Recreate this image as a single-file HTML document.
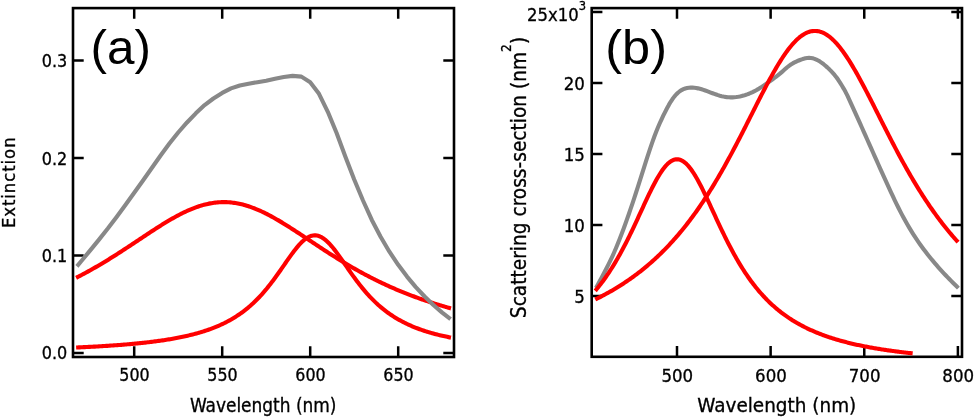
<!DOCTYPE html>
<html><head><meta charset="utf-8"><title>Figure</title>
<style>html,body{margin:0;padding:0;background:#fff}svg{display:block}text{fill:#000}</style>
</head><body>
<svg width="974" height="417" viewBox="0 0 974 417">
<rect width="974" height="417" fill="#fff"/>
<rect x="73.0" y="8.1" width="381.0" height="348.9" fill="none" stroke="#000" stroke-width="2.6"/>
<path d="M134.20,357.0 v-10.7 M134.20,8.1 v10.7 M222.20,357.0 v-10.7 M222.20,8.1 v10.7 M310.20,357.0 v-10.7 M310.20,8.1 v10.7 M398.20,357.0 v-10.7 M398.20,8.1 v10.7 M73.0,353.00 h10.7 M454.0,353.00 h-10.7 M73.0,255.53 h10.7 M454.0,255.53 h-10.7 M73.0,158.06 h10.7 M454.0,158.06 h-10.7 M73.0,60.59 h10.7 M454.0,60.59 h-10.7 " fill="none" stroke="#000" stroke-width="2.5"/>
<path d="M76.12,277.83 L77.37,277.19 L78.63,276.54 L79.88,275.88 L81.14,275.22 L82.39,274.56 L83.64,273.89 L84.90,273.21 L86.15,272.53 L87.40,271.84 L88.66,271.15 L89.91,270.45 L91.17,269.75 L92.42,269.04 L93.67,268.33 L94.93,267.61 L96.18,266.89 L97.43,266.16 L98.69,265.42 L99.94,264.68 L101.20,263.94 L102.45,263.19 L103.70,262.44 L104.96,261.68 L106.21,260.92 L107.46,260.15 L108.72,259.38 L109.97,258.60 L111.23,257.82 L112.48,257.03 L113.73,256.24 L114.99,255.45 L116.24,254.66 L117.49,253.85 L118.75,253.05 L120.00,252.24 L121.26,251.43 L122.51,250.62 L123.76,249.80 L125.02,248.98 L126.27,248.16 L127.52,247.34 L128.78,246.51 L130.03,245.69 L131.29,244.86 L132.54,244.02 L133.79,243.19 L135.05,242.36 L136.30,241.52 L137.56,240.69 L138.81,239.85 L140.06,239.02 L141.32,238.18 L142.57,237.35 L143.82,236.52 L145.08,235.69 L146.33,234.85 L147.59,234.03 L148.84,233.20 L150.09,232.37 L151.35,231.55 L152.60,230.73 L153.85,229.92 L155.11,229.11 L156.36,228.30 L157.62,227.50 L158.87,226.70 L160.12,225.91 L161.38,225.12 L162.63,224.34 L163.88,223.57 L165.14,222.80 L166.39,222.04 L167.65,221.29 L168.90,220.55 L170.15,219.81 L171.41,219.09 L172.66,218.37 L173.91,217.66 L175.17,216.97 L176.42,216.28 L177.68,215.61 L178.93,214.95 L180.18,214.30 L181.44,213.66 L182.69,213.03 L183.95,212.42 L185.20,211.83 L186.45,211.24 L187.71,210.67 L188.96,210.12 L190.21,209.58 L191.47,209.06 L192.72,208.55 L193.98,208.07 L195.23,207.59 L196.48,207.14 L197.74,206.70 L198.99,206.28 L200.24,205.88 L201.50,205.50 L202.75,205.14 L204.01,204.79 L205.26,204.47 L206.51,204.17 L207.77,203.88 L209.02,203.62 L210.27,203.38 L211.53,203.16 L212.78,202.96 L214.04,202.78 L215.29,202.62 L216.54,202.48 L217.80,202.37 L219.05,202.27 L220.30,202.20 L221.56,202.15 L222.81,202.12 L224.07,202.12 L225.32,202.13 L226.57,202.17 L227.83,202.23 L229.08,202.31 L230.33,202.41 L231.59,202.54 L232.84,202.69 L234.10,202.85 L235.35,203.04 L236.60,203.25 L237.86,203.48 L239.11,203.74 L240.37,204.01 L241.62,204.30 L242.87,204.61 L244.13,204.95 L245.38,205.30 L246.63,205.67 L247.89,206.06 L249.14,206.47 L250.40,206.90 L251.65,207.34 L252.90,207.80 L254.16,208.28 L255.41,208.78 L256.66,209.29 L257.92,209.82 L259.17,210.37 L260.43,210.93 L261.68,211.50 L262.93,212.09 L264.19,212.70 L265.44,213.31 L266.69,213.94 L267.95,214.59 L269.20,215.24 L270.46,215.91 L271.71,216.59 L272.96,217.28 L274.22,217.98 L275.47,218.69 L276.72,219.41 L277.98,220.14 L279.23,220.88 L280.49,221.63 L281.74,222.38 L282.99,223.14 L284.25,223.91 L285.50,224.69 L286.75,225.47 L288.01,226.26 L289.26,227.06 L290.52,227.86 L291.77,228.66 L293.02,229.47 L294.28,230.28 L295.53,231.10 L296.79,231.92 L298.04,232.74 L299.29,233.57 L300.55,234.40 L301.80,235.23 L303.05,236.06 L304.31,236.89 L305.56,237.73 L306.82,238.56 L308.07,239.40 L309.32,240.23 L310.58,241.07 L311.83,241.90 L313.08,242.73 L314.34,243.57 L315.59,244.40 L316.85,245.23 L318.10,246.06 L319.35,246.89 L320.61,247.71 L321.86,248.53 L323.11,249.35 L324.37,250.17 L325.62,250.99 L326.88,251.80 L328.13,252.61 L329.38,253.41 L330.64,254.22 L331.89,255.01 L333.14,255.81 L334.40,256.60 L335.65,257.39 L336.91,258.17 L338.16,258.95 L339.41,259.72 L340.67,260.49 L341.92,261.26 L343.17,262.02 L344.43,262.78 L345.68,263.53 L346.94,264.27 L348.19,265.02 L349.44,265.75 L350.70,266.48 L351.95,267.21 L353.21,267.93 L354.46,268.65 L355.71,269.36 L356.97,270.07 L358.22,270.77 L359.47,271.46 L360.73,272.15 L361.98,272.84 L363.24,273.52 L364.49,274.19 L365.74,274.86 L367.00,275.52 L368.25,276.18 L369.50,276.83 L370.76,277.48 L372.01,278.12 L373.27,278.75 L374.52,279.38 L375.77,280.01 L377.03,280.62 L378.28,281.24 L379.53,281.85 L380.79,282.45 L382.04,283.05 L383.30,283.64 L384.55,284.22 L385.80,284.81 L387.06,285.38 L388.31,285.95 L389.56,286.52 L390.82,287.08 L392.07,287.63 L393.33,288.18 L394.58,288.72 L395.83,289.26 L397.09,289.80 L398.34,290.33 L399.60,290.85 L400.85,291.37 L402.10,291.88 L403.36,292.39 L404.61,292.90 L405.86,293.40 L407.12,293.89 L408.37,294.38 L409.63,294.86 L410.88,295.34 L412.13,295.82 L413.39,296.29 L414.64,296.75 L415.89,297.22 L417.15,297.67 L418.40,298.12 L419.66,298.57 L420.91,299.02 L422.16,299.45 L423.42,299.89 L424.67,300.32 L425.92,300.74 L427.18,301.17 L428.43,301.58 L429.69,302.00 L430.94,302.41 L432.19,302.81 L433.45,303.21 L434.70,303.61 L435.95,304.00 L437.21,304.39 L438.46,304.78 L439.72,305.16 L440.97,305.53 L442.22,305.91 L443.48,306.28 L444.73,306.65 L445.98,307.01 L447.24,307.37 L448.49,307.72 L449.75,308.07 L451.00,308.42" fill="none" stroke="#ff0000" stroke-width="4.1" stroke-linejoin="round"/>
<path d="M76.12,347.51 L77.37,347.45 L78.63,347.40 L79.88,347.34 L81.14,347.28 L82.39,347.22 L83.64,347.17 L84.90,347.10 L86.15,347.04 L87.40,346.98 L88.66,346.92 L89.91,346.85 L91.17,346.79 L92.42,346.72 L93.67,346.65 L94.93,346.58 L96.18,346.51 L97.43,346.44 L98.69,346.37 L99.94,346.30 L101.20,346.22 L102.45,346.15 L103.70,346.07 L104.96,345.99 L106.21,345.91 L107.46,345.83 L108.72,345.75 L109.97,345.67 L111.23,345.58 L112.48,345.50 L113.73,345.41 L114.99,345.32 L116.24,345.23 L117.49,345.14 L118.75,345.04 L120.00,344.95 L121.26,344.85 L122.51,344.75 L123.76,344.65 L125.02,344.55 L126.27,344.44 L127.52,344.33 L128.78,344.23 L130.03,344.12 L131.29,344.00 L132.54,343.89 L133.79,343.77 L135.05,343.65 L136.30,343.53 L137.56,343.41 L138.81,343.28 L140.06,343.15 L141.32,343.02 L142.57,342.89 L143.82,342.75 L145.08,342.62 L146.33,342.47 L147.59,342.33 L148.84,342.18 L150.09,342.03 L151.35,341.88 L152.60,341.72 L153.85,341.57 L155.11,341.40 L156.36,341.24 L157.62,341.07 L158.87,340.90 L160.12,340.72 L161.38,340.54 L162.63,340.35 L163.88,340.17 L165.14,339.97 L166.39,339.78 L167.65,339.58 L168.90,339.37 L170.15,339.16 L171.41,338.95 L172.66,338.73 L173.91,338.51 L175.17,338.28 L176.42,338.04 L177.68,337.80 L178.93,337.56 L180.18,337.31 L181.44,337.05 L182.69,336.79 L183.95,336.52 L185.20,336.25 L186.45,335.97 L187.71,335.68 L188.96,335.38 L190.21,335.08 L191.47,334.77 L192.72,334.45 L193.98,334.13 L195.23,333.80 L196.48,333.46 L197.74,333.11 L198.99,332.75 L200.24,332.38 L201.50,332.00 L202.75,331.62 L204.01,331.22 L205.26,330.81 L206.51,330.39 L207.77,329.97 L209.02,329.53 L210.27,329.07 L211.53,328.61 L212.78,328.14 L214.04,327.65 L215.29,327.15 L216.54,326.63 L217.80,326.10 L219.05,325.56 L220.30,325.00 L221.56,324.42 L222.81,323.83 L224.07,323.23 L225.32,322.60 L226.57,321.96 L227.83,321.30 L229.08,320.63 L230.33,319.93 L231.59,319.22 L232.84,318.48 L234.10,317.72 L235.35,316.94 L236.60,316.14 L237.86,315.32 L239.11,314.47 L240.37,313.60 L241.62,312.71 L242.87,311.79 L244.13,310.84 L245.38,309.87 L246.63,308.86 L247.89,307.84 L249.14,306.78 L250.40,305.69 L251.65,304.57 L252.90,303.43 L254.16,302.25 L255.41,301.04 L256.66,299.80 L257.92,298.52 L259.17,297.22 L260.43,295.88 L261.68,294.51 L262.93,293.10 L264.19,291.66 L265.44,290.19 L266.69,288.69 L267.95,287.15 L269.20,285.58 L270.46,283.98 L271.71,282.35 L272.96,280.70 L274.22,279.01 L275.47,277.30 L276.72,275.57 L277.98,273.81 L279.23,272.04 L280.49,270.25 L281.74,268.45 L282.99,266.64 L284.25,264.83 L285.50,263.02 L286.75,261.21 L288.01,259.41 L289.26,257.62 L290.52,255.86 L291.77,254.13 L293.02,252.42 L294.28,250.76 L295.53,249.15 L296.79,247.59 L298.04,246.10 L299.29,244.67 L300.55,243.32 L301.80,242.05 L303.05,240.88 L304.31,239.80 L305.56,238.83 L306.82,237.97 L308.07,237.22 L309.32,236.60 L310.58,236.09 L311.83,235.72 L313.08,235.47 L314.34,235.36 L315.59,235.38 L316.85,235.53 L318.10,235.82 L319.35,236.23 L320.61,236.77 L321.86,237.43 L323.11,238.22 L324.37,239.11 L325.62,240.12 L326.88,241.22 L328.13,242.43 L329.38,243.72 L330.64,245.09 L331.89,246.54 L333.14,248.06 L334.40,249.63 L335.65,251.26 L336.91,252.93 L338.16,254.64 L339.41,256.39 L340.67,258.16 L341.92,259.95 L343.17,261.75 L344.43,263.56 L345.68,265.38 L346.94,267.19 L348.19,269.00 L349.44,270.79 L350.70,272.58 L351.95,274.35 L353.21,276.09 L354.46,277.82 L355.71,279.52 L356.97,281.20 L358.22,282.85 L359.47,284.47 L360.73,286.06 L361.98,287.62 L363.24,289.14 L364.49,290.64 L365.74,292.10 L367.00,293.53 L368.25,294.92 L369.50,296.29 L370.76,297.62 L372.01,298.91 L373.27,300.18 L374.52,301.41 L375.77,302.61 L377.03,303.78 L378.28,304.91 L379.53,306.02 L380.79,307.10 L382.04,308.15 L383.30,309.17 L384.55,310.16 L385.80,311.13 L387.06,312.07 L388.31,312.98 L389.56,313.87 L390.82,314.73 L392.07,315.57 L393.33,316.39 L394.58,317.18 L395.83,317.95 L397.09,318.70 L398.34,319.43 L399.60,320.14 L400.85,320.83 L402.10,321.51 L403.36,322.16 L404.61,322.79 L405.86,323.41 L407.12,324.01 L408.37,324.60 L409.63,325.17 L410.88,325.72 L412.13,326.26 L413.39,326.79 L414.64,327.30 L415.89,327.80 L417.15,328.28 L418.40,328.75 L419.66,329.21 L420.91,329.66 L422.16,330.10 L423.42,330.52 L424.67,330.94 L425.92,331.34 L427.18,331.73 L428.43,332.12 L429.69,332.49 L430.94,332.86 L432.19,333.21 L433.45,333.56 L434.70,333.90 L435.95,334.23 L437.21,334.55 L438.46,334.87 L439.72,335.17 L440.97,335.47 L442.22,335.77 L443.48,336.05 L444.73,336.33 L445.98,336.60 L447.24,336.87 L448.49,337.13 L449.75,337.39 L451.00,337.63" fill="none" stroke="#ff0000" stroke-width="4.1" stroke-linejoin="round"/>
<path d="M76.90,266.40 L81.40,261.05 L90.20,250.42 L99.00,239.63 L107.80,228.58 L116.60,216.94 L125.40,204.97 L134.20,192.80 L143.00,180.56 L151.80,168.04 L160.60,155.46 L169.40,143.55 L178.20,132.49 L187.00,122.47 L195.80,113.35 L204.60,105.11 L213.40,98.51 L222.20,92.90 L231.00,88.35 L239.80,85.46 L248.60,83.67 L257.40,82.15 L266.20,80.76 L275.00,78.73 L283.80,76.93 L292.60,75.90 L301.40,76.61 L310.20,82.29 L319.00,93.81 L327.80,111.80 L336.60,133.09 L345.40,156.72 L354.20,179.43 L363.00,200.48 L371.80,219.96 L380.60,236.72 L389.40,251.67 L398.20,264.84 L407.00,276.59 L415.80,287.12 L424.60,296.49 L433.40,304.93 L442.20,312.60 L450.60,319.23" fill="none" stroke="#888888" stroke-width="4.1" stroke-linejoin="round"/>
<text transform="translate(134.5,381.2) scale(1.02,1)" font-size="17.3" text-anchor="middle" font-family='"DejaVu Sans Condensed", "DejaVu Sans", "Liberation Sans", sans-serif' stroke="#000" stroke-width="0.3">500</text>
<text transform="translate(222.5,381.2) scale(1.02,1)" font-size="17.3" text-anchor="middle" font-family='"DejaVu Sans Condensed", "DejaVu Sans", "Liberation Sans", sans-serif' stroke="#000" stroke-width="0.3">550</text>
<text transform="translate(310.5,381.2) scale(1.02,1)" font-size="17.3" text-anchor="middle" font-family='"DejaVu Sans Condensed", "DejaVu Sans", "Liberation Sans", sans-serif' stroke="#000" stroke-width="0.3">600</text>
<text transform="translate(398.5,381.2) scale(1.02,1)" font-size="17.3" text-anchor="middle" font-family='"DejaVu Sans Condensed", "DejaVu Sans", "Liberation Sans", sans-serif' stroke="#000" stroke-width="0.3">650</text>
<text transform="translate(67.2,359.4) scale(1.03,1)" font-size="17.3" text-anchor="end" font-family='"DejaVu Sans Condensed", "DejaVu Sans", "Liberation Sans", sans-serif' stroke="#000" stroke-width="0.3">0.0</text>
<text transform="translate(67.2,261.9) scale(1.03,1)" font-size="17.3" text-anchor="end" font-family='"DejaVu Sans Condensed", "DejaVu Sans", "Liberation Sans", sans-serif' stroke="#000" stroke-width="0.3">0.1</text>
<text transform="translate(67.2,164.5) scale(1.03,1)" font-size="17.3" text-anchor="end" font-family='"DejaVu Sans Condensed", "DejaVu Sans", "Liberation Sans", sans-serif' stroke="#000" stroke-width="0.3">0.2</text>
<text transform="translate(67.2,67.0) scale(1.03,1)" font-size="17.3" text-anchor="end" font-family='"DejaVu Sans Condensed", "DejaVu Sans", "Liberation Sans", sans-serif' stroke="#000" stroke-width="0.3">0.3</text>
<text transform="translate(263.2,411.9) scale(0.984,1)" font-size="19.2" text-anchor="middle" font-family='"DejaVu Sans Condensed", "DejaVu Sans", "Liberation Sans", sans-serif' stroke="#000" stroke-width="0.3">Wavelength (nm)</text>
<text transform="translate(14.5,182.3) rotate(-90)" font-size="18.3" text-anchor="middle" font-family='"DejaVu Sans Condensed", "DejaVu Sans", "Liberation Sans", sans-serif' stroke="#000" stroke-width="0.3" letter-spacing="0.95">Extinction</text>
<text transform="translate(90.6,63.7) scale(1.02,1)" font-size="48.5" text-anchor="start" font-family='"Liberation Sans", sans-serif' stroke="#000" stroke-width="0">(a)</text>
<rect x="591.7" y="8.1" width="370.29999999999995" height="348.7" fill="none" stroke="#000" stroke-width="2.6"/>
<path d="M677.00,356.8 v-10.7 M677.00,8.1 v10.7 M770.63,356.8 v-10.7 M770.63,8.1 v10.7 M864.26,356.8 v-10.7 M864.26,8.1 v10.7 M957.89,356.8 v-10.7 M957.89,8.1 v10.7 M591.7,295.90 h10.7 M962.0,295.90 h-10.7 M591.7,224.90 h10.7 M962.0,224.90 h-10.7 M591.7,153.90 h10.7 M962.0,153.90 h-10.7 M591.7,82.90 h10.7 M962.0,82.90 h-10.7 M591.7,11.90 h10.7 M962.0,11.90 h-10.7 " fill="none" stroke="#000" stroke-width="2.5"/>
<path d="M596.00,288.00 L597.82,284.60 L599.64,281.24 L601.46,277.87 L603.28,274.48 L605.11,271.04 L606.93,267.53 L608.75,263.92 L610.57,260.19 L612.39,256.31 L614.21,252.26 L616.03,248.02 L617.85,243.59 L619.67,239.00 L621.50,234.27 L623.32,229.42 L625.14,224.45 L626.96,219.38 L628.78,214.21 L630.60,208.94 L632.42,203.56 L634.24,198.08 L636.06,192.50 L637.89,186.84 L639.71,181.13 L641.53,175.38 L643.35,169.63 L645.17,163.89 L646.99,158.19 L648.81,152.58 L650.63,147.10 L652.45,141.82 L654.28,136.77 L656.10,132.00 L657.92,127.51 L659.74,123.28 L661.56,119.29 L663.38,115.47 L665.20,111.80 L667.02,108.25 L668.84,104.91 L670.67,101.82 L672.49,99.05 L674.31,96.62 L676.13,94.52 L677.95,92.75 L679.77,91.27 L681.59,90.09 L683.41,89.16 L685.23,88.48 L687.06,88.01 L688.88,87.73 L690.70,87.61 L692.52,87.63 L694.34,87.77 L696.16,88.02 L697.98,88.37 L699.80,88.80 L701.62,89.32 L703.45,89.89 L705.27,90.52 L707.09,91.18 L708.91,91.86 L710.73,92.56 L712.55,93.24 L714.37,93.91 L716.19,94.55 L718.01,95.15 L719.84,95.69 L721.66,96.17 L723.48,96.57 L725.30,96.89 L727.12,97.13 L728.94,97.28 L730.76,97.36 L732.58,97.34 L734.40,97.24 L736.23,97.07 L738.05,96.81 L739.87,96.48 L741.69,96.07 L743.51,95.59 L745.33,95.04 L747.15,94.42 L748.97,93.72 L750.79,92.95 L752.62,92.10 L754.44,91.18 L756.26,90.19 L758.08,89.15 L759.90,88.04 L761.72,86.88 L763.54,85.67 L765.36,84.43 L767.18,83.15 L769.01,81.85 L770.83,80.54 L772.65,79.22 L774.47,77.90 L776.29,76.55 L778.11,75.14 L779.93,73.66 L781.75,72.08 L783.57,70.45 L785.39,68.82 L787.22,67.26 L789.04,65.82 L790.86,64.54 L792.68,63.42 L794.50,62.42 L796.32,61.54 L798.14,60.74 L799.96,60.03 L801.78,59.37 L803.61,58.79 L805.43,58.33 L807.25,58.02 L809.07,57.90 L810.89,58.00 L812.71,58.32 L814.53,58.85 L816.35,59.58 L818.17,60.50 L820.00,61.58 L821.82,62.82 L823.64,64.21 L825.46,65.72 L827.28,67.36 L829.10,69.10 L830.92,70.92 L832.74,72.84 L834.56,74.91 L836.39,77.21 L838.21,79.78 L840.03,82.57 L841.85,85.51 L843.67,88.58 L845.49,91.86 L847.31,95.43 L849.13,99.33 L850.95,103.32 L852.78,107.32 L854.60,111.32 L856.42,115.35 L858.24,119.39 L860.06,123.44 L861.88,127.50 L863.70,131.58 L865.52,135.66 L867.34,139.74 L869.17,143.83 L870.99,147.93 L872.81,152.02 L874.63,156.12 L876.45,160.20 L878.27,164.28 L880.09,168.34 L881.91,172.39 L883.73,176.43 L885.56,180.44 L887.38,184.42 L889.20,188.38 L891.02,192.31 L892.84,196.20 L894.66,200.03 L896.48,203.81 L898.30,207.51 L900.12,211.12 L901.95,214.64 L903.77,218.05 L905.59,221.36 L907.41,224.56 L909.23,227.66 L911.05,230.67 L912.87,233.59 L914.69,236.43 L916.51,239.18 L918.34,241.85 L920.16,244.45 L921.98,246.98 L923.80,249.45 L925.62,251.85 L927.44,254.20 L929.26,256.49 L931.08,258.73 L932.90,260.93 L934.73,263.09 L936.55,265.20 L938.37,267.28 L940.19,269.32 L942.01,271.33 L943.83,273.30 L945.65,275.25 L947.47,277.16 L949.29,279.04 L951.12,280.90 L952.94,282.73 L954.76,284.54 L956.58,286.33 L958.40,288.10" fill="none" stroke="#888888" stroke-width="4.1" stroke-linejoin="round"/>
<path d="M595.26,290.82 L596.32,289.55 L597.38,288.26 L598.45,286.95 L599.51,285.60 L600.57,284.23 L601.63,282.84 L602.69,281.42 L603.75,279.97 L604.82,278.49 L605.88,276.98 L606.94,275.44 L608.00,273.88 L609.06,272.28 L610.12,270.66 L611.18,269.01 L612.25,267.32 L613.31,265.61 L614.37,263.86 L615.43,262.09 L616.49,260.29 L617.55,258.45 L618.62,256.59 L619.68,254.69 L620.74,252.77 L621.80,250.81 L622.86,248.83 L623.92,246.82 L624.98,244.78 L626.05,242.71 L627.11,240.62 L628.17,238.50 L629.23,236.36 L630.29,234.20 L631.35,232.01 L632.42,229.80 L633.48,227.58 L634.54,225.33 L635.60,223.07 L636.66,220.80 L637.72,218.52 L638.78,216.23 L639.85,213.93 L640.91,211.63 L641.97,209.32 L643.03,207.02 L644.09,204.73 L645.15,202.45 L646.22,200.17 L647.28,197.92 L648.34,195.68 L649.40,193.47 L650.46,191.29 L651.52,189.15 L652.59,187.03 L653.65,184.97 L654.71,182.95 L655.77,180.98 L656.83,179.06 L657.89,177.21 L658.95,175.43 L660.02,173.71 L661.08,172.07 L662.14,170.52 L663.20,169.04 L664.26,167.66 L665.32,166.37 L666.39,165.18 L667.45,164.08 L668.51,163.10 L669.57,162.22 L670.63,161.45 L671.69,160.80 L672.75,160.26 L673.82,159.84 L674.88,159.54 L675.94,159.36 L677.00,159.30 L678.06,159.36 L679.12,159.54 L680.19,159.84 L681.25,160.26 L682.31,160.80 L683.37,161.45 L684.43,162.22 L685.49,163.10 L686.55,164.09 L687.62,165.18 L688.68,166.37 L689.74,167.66 L690.80,169.05 L691.86,170.52 L692.92,172.08 L693.99,173.72 L695.05,175.43 L696.11,177.22 L697.17,179.07 L698.23,180.98 L699.29,182.95 L700.36,184.97 L701.42,187.04 L702.48,189.15 L703.54,191.30 L704.60,193.48 L705.66,195.69 L706.72,197.92 L707.79,200.18 L708.85,202.45 L709.91,204.73 L710.97,207.03 L712.03,209.33 L713.09,211.63 L714.16,213.93 L715.22,216.23 L716.28,218.52 L717.34,220.81 L718.40,223.08 L719.46,225.34 L720.52,227.58 L721.59,229.81 L722.65,232.01 L723.71,234.20 L724.77,236.37 L725.83,238.51 L726.89,240.63 L727.96,242.72 L729.02,244.78 L730.08,246.82 L731.14,248.83 L732.20,250.82 L733.26,252.77 L734.33,254.69 L735.39,256.59 L736.45,258.45 L737.51,260.29 L738.57,262.09 L739.63,263.87 L740.69,265.61 L741.76,267.33 L742.82,269.01 L743.88,270.66 L744.94,272.29 L746.00,273.88 L747.06,275.45 L748.13,276.98 L749.19,278.49 L750.25,279.97 L751.31,281.42 L752.37,282.84 L753.43,284.24 L754.49,285.61 L755.56,286.95 L756.62,288.26 L757.68,289.55 L758.74,290.82 L759.80,292.06 L760.86,293.27 L761.93,294.46 L762.99,295.63 L764.05,296.77 L765.11,297.90 L766.17,298.99 L767.23,300.07 L768.29,301.13 L769.36,302.16 L770.42,303.18 L771.48,304.17 L772.54,305.14 L773.60,306.10 L774.66,307.03 L775.73,307.95 L776.79,308.85 L777.85,309.73 L778.91,310.59 L779.97,311.44 L781.03,312.27 L782.10,313.08 L783.16,313.88 L784.22,314.66 L785.28,315.43 L786.34,316.18 L787.40,316.92 L788.46,317.64 L789.53,318.35 L790.59,319.04 L791.65,319.73 L792.71,320.39 L793.77,321.05 L794.83,321.69 L795.90,322.32 L796.96,322.94 L798.02,323.55 L799.08,324.15 L800.14,324.73 L801.20,325.31 L802.26,325.87 L803.33,326.42 L804.39,326.96 L805.45,327.50 L806.51,328.02 L807.57,328.53 L808.63,329.04 L809.70,329.53 L810.76,330.02 L811.82,330.49 L812.88,330.96 L813.94,331.42 L815.00,331.88 L816.06,332.32 L817.13,332.76 L818.19,333.18 L819.25,333.60 L820.31,334.02 L821.37,334.42 L822.43,334.82 L823.50,335.22 L824.56,335.60 L825.62,335.98 L826.68,336.35 L827.74,336.72 L828.80,337.08 L829.87,337.43 L830.93,337.78 L831.99,338.13 L833.05,338.46 L834.11,338.79 L835.17,339.12 L836.23,339.44 L837.30,339.75 L838.36,340.06 L839.42,340.37 L840.48,340.67 L841.54,340.96 L842.60,341.26 L843.67,341.54 L844.73,341.82 L845.79,342.10 L846.85,342.37 L847.91,342.64 L848.97,342.90 L850.03,343.16 L851.10,343.42 L852.16,343.67 L853.22,343.92 L854.28,344.16 L855.34,344.41 L856.40,344.64 L857.47,344.88 L858.53,345.11 L859.59,345.33 L860.65,345.55 L861.71,345.77 L862.77,345.99 L863.84,346.20 L864.90,346.41 L865.96,346.62 L867.02,346.83 L868.08,347.03 L869.14,347.23 L870.20,347.42 L871.27,347.61 L872.33,347.80 L873.39,347.99 L874.45,348.17 L875.51,348.36 L876.57,348.54 L877.64,348.71 L878.70,348.89 L879.76,349.06 L880.82,349.23 L881.88,349.40 L882.94,349.56 L884.00,349.72 L885.07,349.88 L886.13,350.04 L887.19,350.20 L888.25,350.35 L889.31,350.50 L890.37,350.65 L891.44,350.80 L892.50,350.95 L893.56,351.09 L894.62,351.23 L895.68,351.38 L896.74,351.51 L897.80,351.65 L898.87,351.79 L899.93,351.92 L900.99,352.05 L902.05,352.18 L903.11,352.31 L904.17,352.44 L905.24,352.56 L906.30,352.68 L907.36,352.81 L908.42,352.93 L909.48,353.04 L910.54,353.16 L911.61,353.28 L912.67,353.39" fill="none" stroke="#ff0000" stroke-width="4.1" stroke-linejoin="round"/>
<path d="M595.26,299.50 L596.47,298.90 L597.69,298.29 L598.90,297.68 L600.11,297.06 L601.33,296.43 L602.54,295.79 L603.76,295.15 L604.97,294.50 L606.18,293.83 L607.40,293.17 L608.61,292.49 L609.82,291.80 L611.04,291.11 L612.25,290.40 L613.46,289.69 L614.68,288.97 L615.89,288.24 L617.10,287.50 L618.32,286.75 L619.53,285.99 L620.74,285.23 L621.96,284.45 L623.17,283.66 L624.38,282.86 L625.60,282.06 L626.81,281.24 L628.02,280.41 L629.24,279.57 L630.45,278.72 L631.66,277.86 L632.88,276.98 L634.09,276.10 L635.30,275.21 L636.52,274.30 L637.73,273.38 L638.94,272.45 L640.16,271.51 L641.37,270.55 L642.58,269.58 L643.80,268.60 L645.01,267.61 L646.23,266.61 L647.44,265.59 L648.65,264.55 L649.87,263.51 L651.08,262.45 L652.29,261.38 L653.51,260.29 L654.72,259.19 L655.93,258.07 L657.15,256.94 L658.36,255.79 L659.57,254.63 L660.79,253.46 L662.00,252.27 L663.21,251.06 L664.43,249.84 L665.64,248.60 L666.85,247.34 L668.07,246.07 L669.28,244.79 L670.49,243.48 L671.71,242.16 L672.92,240.82 L674.13,239.47 L675.35,238.09 L676.56,236.70 L677.77,235.30 L678.99,233.87 L680.20,232.43 L681.41,230.96 L682.63,229.48 L683.84,227.98 L685.05,226.46 L686.27,224.93 L687.48,223.37 L688.70,221.79 L689.91,220.20 L691.12,218.58 L692.34,216.95 L693.55,215.29 L694.76,213.62 L695.98,211.93 L697.19,210.21 L698.40,208.48 L699.62,206.72 L700.83,204.95 L702.04,203.15 L703.26,201.34 L704.47,199.50 L705.68,197.64 L706.90,195.77 L708.11,193.87 L709.32,191.95 L710.54,190.01 L711.75,188.06 L712.96,186.08 L714.18,184.08 L715.39,182.06 L716.60,180.02 L717.82,177.96 L719.03,175.89 L720.24,173.79 L721.46,171.67 L722.67,169.54 L723.88,167.39 L725.10,165.22 L726.31,163.03 L727.53,160.82 L728.74,158.60 L729.95,156.36 L731.17,154.11 L732.38,151.84 L733.59,149.56 L734.81,147.26 L736.02,144.95 L737.23,142.62 L738.45,140.28 L739.66,137.94 L740.87,135.58 L742.09,133.21 L743.30,130.83 L744.51,128.45 L745.73,126.06 L746.94,123.66 L748.15,121.26 L749.37,118.86 L750.58,116.45 L751.79,114.05 L753.01,111.64 L754.22,109.24 L755.43,106.83 L756.65,104.44 L757.86,102.05 L759.07,99.67 L760.29,97.29 L761.50,94.93 L762.71,92.58 L763.93,90.25 L765.14,87.93 L766.35,85.63 L767.57,83.35 L768.78,81.09 L770.00,78.85 L771.21,76.64 L772.42,74.46 L773.64,72.31 L774.85,70.19 L776.06,68.11 L777.28,66.06 L778.49,64.05 L779.70,62.08 L780.92,60.15 L782.13,58.26 L783.34,56.43 L784.56,54.64 L785.77,52.90 L786.98,51.21 L788.20,49.58 L789.41,48.01 L790.62,46.49 L791.84,45.04 L793.05,43.64 L794.26,42.32 L795.48,41.05 L796.69,39.86 L797.90,38.73 L799.12,37.68 L800.33,36.70 L801.54,35.79 L802.76,34.95 L803.97,34.19 L805.18,33.51 L806.40,32.91 L807.61,32.38 L808.83,31.94 L810.04,31.57 L811.25,31.29 L812.47,31.09 L813.68,30.97 L814.89,30.93 L816.11,30.97 L817.32,31.09 L818.53,31.30 L819.75,31.59 L820.96,31.95 L822.17,32.40 L823.39,32.93 L824.60,33.54 L825.81,34.22 L827.03,34.98 L828.24,35.82 L829.45,36.73 L830.67,37.71 L831.88,38.77 L833.09,39.90 L834.31,41.10 L835.52,42.36 L836.73,43.69 L837.95,45.09 L839.16,46.55 L840.37,48.06 L841.59,49.64 L842.80,51.27 L844.01,52.96 L845.23,54.70 L846.44,56.49 L847.65,58.33 L848.87,60.22 L850.08,62.15 L851.30,64.12 L852.51,66.13 L853.72,68.18 L854.94,70.27 L856.15,72.39 L857.36,74.54 L858.58,76.72 L859.79,78.93 L861.00,81.17 L862.22,83.43 L863.43,85.71 L864.64,88.01 L865.86,90.33 L867.07,92.67 L868.28,95.02 L869.50,97.38 L870.71,99.75 L871.92,102.13 L873.14,104.52 L874.35,106.92 L875.56,109.32 L876.78,111.73 L877.99,114.13 L879.20,116.54 L880.42,118.95 L881.63,121.35 L882.84,123.75 L884.06,126.15 L885.27,128.54 L886.48,130.92 L887.70,133.30 L888.91,135.66 L890.13,138.02 L891.34,140.37 L892.55,142.71 L893.77,145.03 L894.98,147.34 L896.19,149.64 L897.41,151.92 L898.62,154.19 L899.83,156.45 L901.05,158.68 L902.26,160.90 L903.47,163.11 L904.69,165.30 L905.90,167.47 L907.11,169.62 L908.33,171.75 L909.54,173.87 L910.75,175.96 L911.97,178.04 L913.18,180.10 L914.39,182.13 L915.61,184.15 L916.82,186.15 L918.03,188.13 L919.25,190.08 L920.46,192.02 L921.67,193.94 L922.89,195.84 L924.10,197.71 L925.31,199.57 L926.53,201.40 L927.74,203.22 L928.95,205.01 L930.17,206.79 L931.38,208.54 L932.60,210.27 L933.81,211.99 L935.02,213.68 L936.24,215.36 L937.45,217.01 L938.66,218.64 L939.88,220.26 L941.09,221.85 L942.30,223.43 L943.52,224.98 L944.73,226.52 L945.94,228.04 L947.16,229.54 L948.37,231.02 L949.58,232.48 L950.80,233.92 L952.01,235.35 L953.22,236.75 L954.44,238.14 L955.65,239.52 L956.86,240.87 L958.08,242.21" fill="none" stroke="#ff0000" stroke-width="4.1" stroke-linejoin="round"/>
<text transform="translate(677.3,381.6) scale(1.02,1)" font-size="18.1" text-anchor="middle" font-family='"DejaVu Sans Condensed", "DejaVu Sans", "Liberation Sans", sans-serif' stroke="#000" stroke-width="0.3">500</text>
<text transform="translate(770.9,381.6) scale(1.02,1)" font-size="18.1" text-anchor="middle" font-family='"DejaVu Sans Condensed", "DejaVu Sans", "Liberation Sans", sans-serif' stroke="#000" stroke-width="0.3">600</text>
<text transform="translate(864.6,381.6) scale(1.02,1)" font-size="18.1" text-anchor="middle" font-family='"DejaVu Sans Condensed", "DejaVu Sans", "Liberation Sans", sans-serif' stroke="#000" stroke-width="0.3">700</text>
<text transform="translate(958.2,381.6) scale(1.02,1)" font-size="18.1" text-anchor="middle" font-family='"DejaVu Sans Condensed", "DejaVu Sans", "Liberation Sans", sans-serif' stroke="#000" stroke-width="0.3">800</text>
<text transform="translate(584.9,302.5) scale(1.02,1)" font-size="18.1" text-anchor="end" font-family='"DejaVu Sans Condensed", "DejaVu Sans", "Liberation Sans", sans-serif' stroke="#000" stroke-width="0.3">5</text>
<text transform="translate(584.9,231.5) scale(1.02,1)" font-size="18.1" text-anchor="end" font-family='"DejaVu Sans Condensed", "DejaVu Sans", "Liberation Sans", sans-serif' stroke="#000" stroke-width="0.3">10</text>
<text transform="translate(584.9,160.5) scale(1.02,1)" font-size="18.1" text-anchor="end" font-family='"DejaVu Sans Condensed", "DejaVu Sans", "Liberation Sans", sans-serif' stroke="#000" stroke-width="0.3">15</text>
<text transform="translate(584.9,89.5) scale(1.02,1)" font-size="18.1" text-anchor="end" font-family='"DejaVu Sans Condensed", "DejaVu Sans", "Liberation Sans", sans-serif' stroke="#000" stroke-width="0.3">20</text>
<text transform="translate(578.6,21.4) scale(1.01,1)" font-size="18.1" text-anchor="end" font-family='"DejaVu Sans Condensed", "DejaVu Sans", "Liberation Sans", sans-serif' stroke="#000" stroke-width="0.3">25x10</text>
<text transform="translate(578.8,9.6)" font-size="12.8" text-anchor="start" font-family='"DejaVu Sans Condensed", "DejaVu Sans", "Liberation Sans", sans-serif' stroke="#000" stroke-width="0.3">3</text>
<text transform="translate(776.8,411.9) scale(1.045,1)" font-size="19.6" text-anchor="middle" font-family='"DejaVu Sans Condensed", "DejaVu Sans", "Liberation Sans", sans-serif' stroke="#000" stroke-width="0.3">Wavelength (nm)</text>
<text transform="translate(526.0,177.5) rotate(-90) scale(1.017,1.03)" font-size="20.3" text-anchor="middle" font-family='"DejaVu Sans Condensed", "DejaVu Sans", "Liberation Sans", sans-serif' stroke="#000" stroke-width="0.3">Scattering cross-section (nm<tspan font-size="13.5" dy="-15">2</tspan><tspan dy="15">)</tspan></text>
<text transform="translate(605.3,63.9) scale(1.04,1)" font-size="48.5" text-anchor="start" font-family='"Liberation Sans", sans-serif' stroke="#000" stroke-width="0">(b)</text>
</svg>
</body></html>
